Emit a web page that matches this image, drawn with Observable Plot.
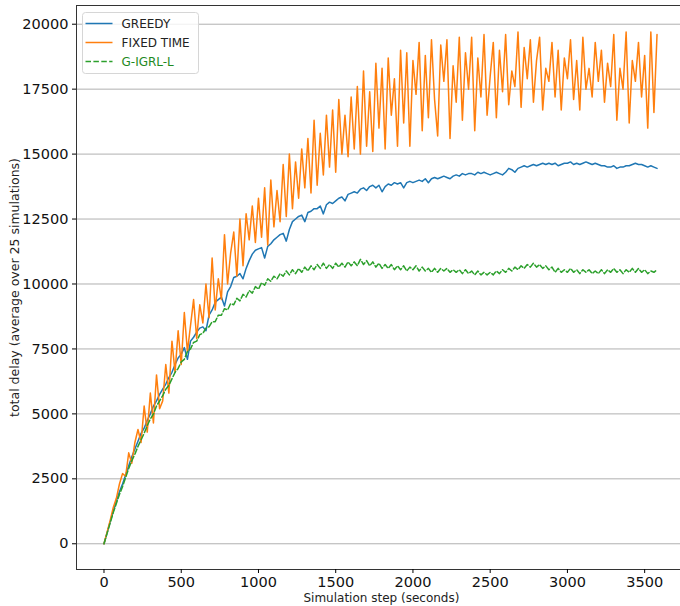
<!DOCTYPE html>
<html>
<head>
<meta charset="utf-8">
<script src="https://cdn.jsdelivr.net/npm/d3@7"></script>
<script src="https://cdn.jsdelivr.net/npm/@observablehq/plot@0.6"></script>
<style>
  html, body { margin: 0; padding: 0; background: #fff; overflow: hidden; }
  #wrap { position: relative; width: 680px; height: 606px; font-family: "DejaVu Sans", sans-serif; }
  #legend { position: absolute; left: 81.5px; top: 11.5px; }
</style>
</head>
<body>
<div id="wrap"></div>
<script>
// ---- data (sampled every 20 s of simulation) ----
const steps = d3.range(0, 3600, 20);
const seriesNames = ["GREEDY", "FIXED TIME", "G-IGRL-L"];
const seriesColors = ["#1f77b4", "#ff7f0e", "#2ca02c"];
const xTicks = [0, 500, 1000, 1500, 2000, 2500, 3000, 3500];
const yTicks = [0, 2500, 5000, 7500, 10000, 12500, 15000, 17500, 20000];

const greedy = [
  0, 420, 850, 1250, 1650, 2000, 2300, 2650, 3000, 3350,
  3650, 3950, 4250, 4450, 4750, 5000, 5300, 5500, 5750, 5950,
  6150, 6400, 6600, 6900, 7150, 7300, 7550, 7100, 7800, 7950,
  8150, 8300, 8350, 8200, 8800, 9000, 9300, 9400, 9500, 9150,
  9700, 9900, 10250, 10300, 10400, 10200, 10600, 10900, 11150, 11300,
  11350, 11400, 11000, 11450, 11550, 11700, 11800, 11900, 11950, 11650,
  12100, 12400, 12500, 12600, 12650, 12400, 12750, 12800, 12900, 12900,
  13000, 12700, 13050, 13150, 13100, 13200, 13300, 13350, 13200, 13450,
  13500, 13550, 13500, 13650, 13700, 13600, 13750, 13800, 13700, 13800,
  13550, 13750, 13850, 13800, 13900, 13850, 13900, 13700, 13900, 13950,
  13900, 13950, 14000, 13950, 14050, 13900, 14050, 14100, 14050, 14100,
  14150, 14100, 14050, 14150, 14200, 14150, 14250, 14200, 14250, 14250,
  14200, 14300, 14250, 14300, 14250, 14200, 14250, 14300, 14250, 14200,
  14300, 14450, 14400, 14300, 14450, 14500, 14550, 14500, 14550, 14600,
  14550, 14600, 14650, 14600, 14650, 14600, 14650, 14550, 14600, 14650,
  14650, 14700, 14600, 14650, 14600, 14650, 14700, 14650, 14600, 14650,
  14600, 14550, 14550, 14500, 14500, 14550, 14450, 14500, 14500, 14550,
  14550, 14600, 14650, 14600, 14600, 14550, 14500, 14550, 14500, 14450
];

const fixedTime = [
  0, 450, 900, 1400, 1750, 2300, 2700, 2600, 3500, 3100,
  3900, 4400, 3900, 5300, 4300, 5800, 4650, 6500, 5200, 5500,
  6900, 5800, 7800, 6600, 8200, 6900, 8900, 7400, 8400, 9400,
  7900, 9200, 8500, 10000, 8700, 11000, 9000, 10200, 9400, 11900,
  10000, 11200, 12000, 10300, 12500, 10700, 12700, 11700, 13000, 11600,
  13300, 11800, 13700, 11500, 14000, 12200, 13600, 12400, 14600, 12600,
  15000, 12900, 14700, 13300, 15200, 13700, 15600, 13500, 16300, 13800,
  15800, 14200, 16500, 14500, 16700, 14300, 17100, 15000, 16500, 14900,
  17200, 15200, 17600, 15000, 18200, 15300, 17400, 15100, 18500, 16000,
  18300, 15200, 18700, 16500, 17900, 15300, 19000, 16200, 18900, 15300,
  18600, 17300, 19300, 15900, 18800, 16400, 19400, 17100, 15700, 19200,
  17800, 19400, 15600, 18400, 17000, 19500, 16300, 18900, 17500, 19500,
  15900, 18700, 17200, 19600, 16500, 18000, 19300, 16400, 19000, 17400,
  19600, 16900, 18200, 17600, 19700, 16800, 19100, 17900, 19400, 17000,
  18600, 19500, 16700, 18300, 17800, 19300, 17200, 19000, 16700, 18700,
  17900, 19400, 17100, 18600, 16700, 19500, 17500, 18300, 17200, 19300,
  17800, 19000, 17000, 18500, 17600, 19600, 16300, 18300, 17500, 19700,
  16200, 18600, 17800, 19300, 17200, 18800, 16000, 19700, 16600, 19600
];

const gIgrlL = [
  0, 400, 800, 1200, 1550, 1900, 2200, 2550, 2900, 3200,
  3450, 3750, 4000, 4250, 4550, 4800, 5000, 5300, 5500, 5700,
  5950, 6100, 6350, 6600, 6750, 7000, 7100, 7400, 7500, 7750,
  7800, 8050, 8100, 8300, 8350, 8550, 8550, 8800, 8800, 9050,
  9000, 9250, 9200, 9450, 9350, 9600, 9500, 9750, 9650, 9900,
  9800, 10050, 9950, 10200, 10100, 10300, 10200, 10400, 10300, 10500,
  10350, 10550, 10400, 10600, 10450, 10650, 10500, 10700, 10550, 10750,
  10600, 10800, 10600, 10750, 10600, 10800, 10650, 10800, 10650, 10850,
  10700, 10850, 10700, 10950, 10750, 10900, 10700, 10850, 10650, 10800,
  10600, 10750, 10600, 10750, 10550, 10700, 10550, 10700, 10500, 10650,
  10550, 10700, 10500, 10650, 10500, 10600, 10450, 10600, 10450, 10600,
  10500, 10600, 10450, 10550, 10450, 10550, 10400, 10550, 10400, 10500,
  10350, 10500, 10350, 10450, 10350, 10450, 10350, 10500, 10400, 10550,
  10450, 10600, 10500, 10650, 10550, 10700, 10600, 10750, 10650, 10800,
  10650, 10750, 10600, 10700, 10550, 10650, 10450, 10600, 10450, 10550,
  10450, 10600, 10450, 10550, 10400, 10550, 10450, 10550, 10400, 10500,
  10400, 10550, 10400, 10550, 10450, 10600, 10450, 10550, 10400, 10550,
  10450, 10600, 10450, 10600, 10450, 10550, 10400, 10500, 10450, 10550
];

const xDomain = [-178, 3732];
const yDomain = [-990, 20720];

const valuesBySeries = [greedy, fixedTime, gIgrlL];
const rows = [];
seriesNames.forEach((name, k) => {
  steps.forEach((t, i) => rows.push({ series: name, t, v: valuesBySeries[k][i] }));
});

const font = "DejaVu Sans, sans-serif";
const plain = d3.format("d");
const chart = Plot.plot({
  width: 680,
  height: 606,
  marginLeft: 76,
  marginRight: 0,
  marginTop: 5,
  marginBottom: 37,
  style: { fontFamily: font, background: "#fff", overflow: "hidden" },
  x: { domain: xDomain, ticks: xTicks, label: null, tickFormat: plain },
  y: { domain: yDomain, ticks: yTicks, label: null, tickFormat: plain },
  marks: [
    Plot.gridY(yTicks, { stroke: "#b0b0b0", strokeOpacity: 1, strokeWidth: 1 }),
    Plot.line(rows.filter(d => d.series === seriesNames[0]), { x: "t", y: "v", stroke: seriesColors[0], strokeWidth: 1.5 }),
    Plot.line(rows.filter(d => d.series === seriesNames[1]), { x: "t", y: "v", stroke: seriesColors[1], strokeWidth: 1.5 }),
    Plot.line(rows.filter(d => d.series === seriesNames[2]), { x: "t", y: "v", stroke: seriesColors[2], strokeWidth: 1.5, strokeDasharray: "5.5,2.4" }),
    Plot.ruleX([xDomain[0]], { stroke: "#333", strokeWidth: 1 }),
    Plot.ruleY([yDomain[0]], { stroke: "#333", strokeWidth: 1 }),
    Plot.ruleY([yDomain[1]], { stroke: "#333", strokeWidth: 1 }),
    Plot.axisY(yTicks, { tickSize: 4, tickPadding: 4, fontSize: 14.5, stroke: "#000", fill: "#111", label: null, tickFormat: plain }),
    Plot.axisX(xTicks, { tickSize: 4, tickPadding: 3, fontSize: 14.5, stroke: "#000", fill: "#111", label: null, tickFormat: plain }),
    Plot.text(["total delay (average over 25 simulations)"], {
      frameAnchor: "left", dx: -62, rotate: -90, fontSize: 12.5, fill: "#222", textAnchor: "middle"
    }),
    Plot.text(["Simulation step (seconds)"], {
      x: (xDomain[0] + 3770) / 2, frameAnchor: "bottom", dy: 32, fontSize: 12, fill: "#222", lineAnchor: "bottom"
    })
  ]
});

const wrap = document.getElementById("wrap");
wrap.appendChild(chart);

// legend overlay (inside the axes, upper left)
const lg = d3.create("svg").attr("id", "legend").attr("width", 118).attr("height", 63)
  .style("font-family", font);
lg.append("rect").attr("x", 0.5).attr("y", 0.5).attr("width", 116).attr("height", 61)
  .attr("rx", 3).attr("fill", "#fff").attr("fill-opacity", 0.8).attr("stroke", "#d6d6d6");
seriesNames.forEach((name, i) => {
  const y = 11.5 + i * 19;
  lg.append("line").attr("x1", 3.5).attr("x2", 30.5).attr("y1", y).attr("y2", y)
    .attr("stroke", seriesColors[i]).attr("stroke-width", 1.5)
    .attr("stroke-dasharray", i === 2 ? "5.5,2.4" : null);
  lg.append("text").attr("x", 39.5).attr("y", y).attr("dy", "0.35em")
    .attr("font-size", 12).attr("fill", i === 2 ? "#1f8a1f" : "#222").text(name);
});
wrap.appendChild(lg.node());
</script>
</body>
</html>
